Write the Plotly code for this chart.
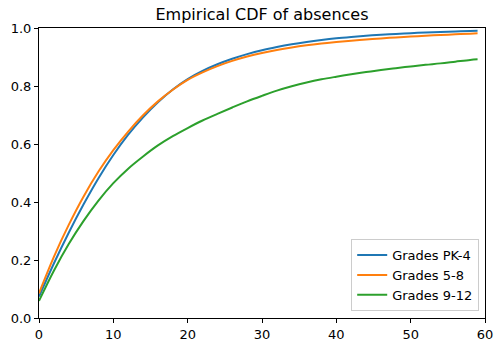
import plotly.graph_objects as go

# Days absent (x) and cumulative share of students at or below that count
days = [0, 2, 4, 6, 8, 10, 12, 14, 16, 18, 20, 22, 24, 26, 28, 30,
        32, 34, 36, 38, 40, 42, 44, 46, 48, 50, 52, 54, 56, 58, 59]

cdf_pk4 = [0.074, 0.188, 0.294, 0.392, 0.482, 0.562, 0.632, 0.692, 0.744, 0.788, 0.824,
           0.852, 0.875, 0.894, 0.910, 0.9236, 0.9346, 0.944, 0.952, 0.9588, 0.9646,
           0.9692, 0.9732, 0.9766, 0.9796, 0.9822, 0.9844, 0.9864, 0.9882, 0.9898, 0.9906]
cdf_5_8 = [0.085, 0.211, 0.321, 0.419, 0.505, 0.579, 0.643, 0.699, 0.747, 0.787, 0.821,
           0.847, 0.8686, 0.8866, 0.9016, 0.914, 0.9244, 0.933, 0.9402, 0.9462, 0.9514,
           0.956, 0.9602, 0.964, 0.9674, 0.9704, 0.9732, 0.9758, 0.9782, 0.9804, 0.9815]
cdf_9_12 = [0.059, 0.163, 0.255, 0.335, 0.405, 0.465, 0.515, 0.557, 0.595, 0.627, 0.655,
            0.681, 0.704, 0.726, 0.747, 0.766, 0.784, 0.799, 0.812, 0.823, 0.832,
            0.8404, 0.848, 0.855, 0.8614, 0.8674, 0.873, 0.878, 0.884, 0.890, 0.892]

series = [
    ("Grades PK-4", cdf_pk4, "#1f77b4"),
    ("Grades 5-8", cdf_5_8, "#ff7f0e"),
    ("Grades 9-12", cdf_9_12, "#2ca02c"),
]

x_ticks = [0, 10, 20, 30, 40, 50, 60]
y_ticks = [0.0, 0.2, 0.4, 0.6, 0.8, 1.0]

fig = go.Figure()
for name, values, color in series:
    fig.add_trace(go.Scatter(
        x=days, y=values, name=name, mode="lines",
        line=dict(color=color, width=2, shape="spline", smoothing=1.0),
    ))

font = "DejaVu Sans"
axis_common = dict(
    showgrid=False, zeroline=False, showline=True, linecolor="black", linewidth=1,
    mirror=True, ticks="outside", ticklen=4, tickcolor="black", tickwidth=1,
    tickfont=dict(family=font, size=13, color="black"),
)

fig.update_layout(
    width=503, height=352,
    margin=dict(l=39, r=10, t=28, b=29),
    paper_bgcolor="white", plot_bgcolor="white",
    title=dict(text="Empirical CDF of absences", xref="paper", x=0.5, xanchor="center",
               y=0.96, yanchor="middle",
               font=dict(family=font, size=16, color="black")),
    xaxis=dict(range=[0, 60], tickvals=x_ticks, **axis_common),
    yaxis=dict(range=[0, 1], tickvals=y_ticks, tickformat=".1f", **axis_common),
    legend=dict(x=0.987, y=0.024, xanchor="right", yanchor="bottom",
                bgcolor="rgba(255,255,255,0.8)", bordercolor="#cccccc", borderwidth=1,
                font=dict(family=font, size=13, color="black"),
                tracegroupgap=0, itemwidth=30),
    showlegend=True,
)

fig.write_html("out.html")
